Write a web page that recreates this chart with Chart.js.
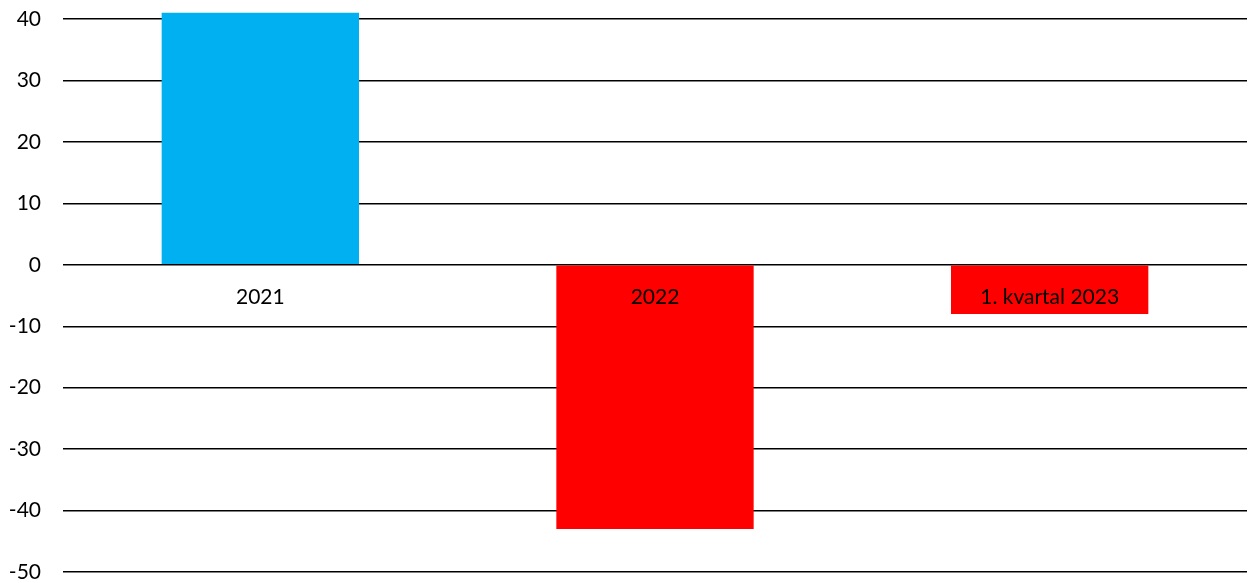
<!DOCTYPE html>
<html>
<head>
<meta charset="utf-8">
<script src="https://cdn.jsdelivr.net/npm/chart.js@4"></script>
<style>
  html, body { margin: 0; padding: 0; background: #fff; overflow: hidden; }
</style>
</head>
<body>
<canvas id="c" width="1249" height="583"></canvas>
<script>
const categories = ["2021", "2022", "1. kvartal 2023"];
const values = [41, -43, -8];
const barColors = ["#00B0F0", "#FF0000", "#FF0000"];
const yMin = -50, yMax = 40, yStep = 10;

const zeroLabels = {
  id: 'zeroLabels',
  afterDatasetsDraw(chart) {
    const xs = chart.scales.x, ys = chart.scales.y, ctx = chart.ctx;
    const y0 = ys.getPixelForValue(0);
    ctx.save();
    ctx.font = '21px Lato';
    ctx.fillStyle = '#000';
    ctx.textAlign = 'center';
    ctx.textBaseline = 'middle';
    categories.forEach((lab, i) => {
      ctx.fillText(lab, xs.getPixelForValue(i), y0 + 32);
    });
    ctx.restore();
  }
};

new Chart(document.getElementById('c'), {
  type: 'bar',
  data: {
    labels: categories,
    datasets: [{
      data: values,
      backgroundColor: barColors,
      borderWidth: 0,
      barPercentage: 0.5,
      categoryPercentage: 1.0,
      clip: false
    }]
  },
  options: {
    responsive: false,
    animation: false,
    layout: { padding: { top: 19, bottom: 11, left: 0, right: 2 } },
    plugins: { legend: { display: false }, tooltip: { enabled: false } },
    scales: {
      x: { display: false },
      y: {
        min: yMin, max: yMax,
        grid: { color: '#000', lineWidth: 1.4, drawTicks: true, tickLength: 22, tickColor: 'rgba(0,0,0,0)' },
        border: { display: false },
        ticks: { stepSize: yStep, color: '#000', font: { family: 'Lato', size: 21, lineHeight: 1.0 }, padding: 0 },
        afterFit: (s) => { s.width = 63; }
      }
    }
  },
  plugins: [zeroLabels]
});
</script>
</body>
</html>
